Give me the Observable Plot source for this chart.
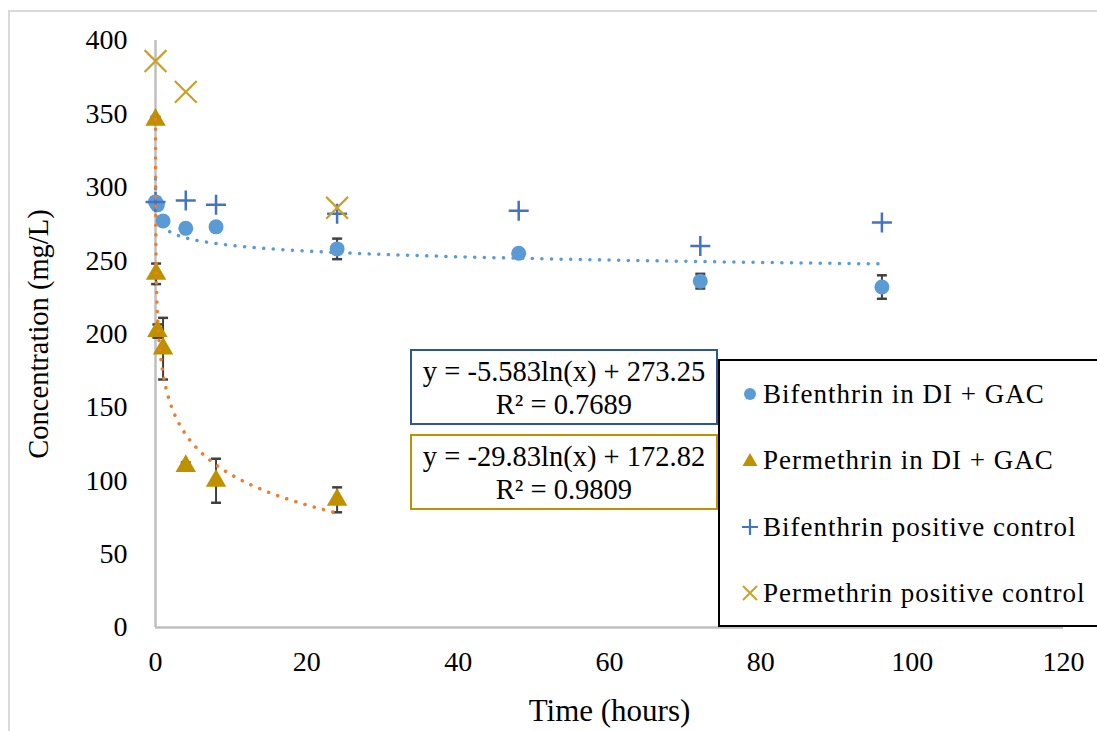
<!DOCTYPE html>
<html><head><meta charset="utf-8">
<script src="https://cdn.jsdelivr.net/npm/d3@7"></script>
<script src="https://cdn.jsdelivr.net/npm/@observablehq/plot@0.6"></script>
<style>
body{margin:0;background:#fff;}
#wrap{position:relative;width:1097px;height:731px;overflow:hidden;font-family:"Liberation Serif","Times New Roman",serif;background:#fff;}
#wrap svg.plot{position:absolute;left:0;top:0;}
#wrap svg text{font-family:"Liberation Serif","Times New Roman",serif !important;font-variant:normal !important;font-variant-numeric:normal !important;}
.frame{position:absolute;left:8px;top:10px;width:1120px;height:760px;border:2px solid #D9D9D9;box-sizing:border-box;}
.eq{position:absolute;left:410px;width:308px;height:76px;box-sizing:border-box;border:2px solid;background:#fff;text-align:center;font-size:28.5px;line-height:33px;color:#000;padding-top:4px;}
#legend{position:absolute;left:718px;top:359px;width:420px;height:268px;border:2px solid #000;box-sizing:border-box;background:#fff;}
.li{position:absolute;left:0;height:34px;line-height:34px;font-size:27px;color:#000;white-space:nowrap;letter-spacing:1px;}
.li svg{position:absolute;left:20px;top:7px;}
.li span{position:absolute;left:43px;}
g[aria-label="x-axis label"] text{font-size:31px;}
g[aria-label="y-axis label"] text{font-size:28.5px;}
</style>
</head><body>
<div id="wrap"><div class="frame"></div></div>
<script>
// ---- data ----
const xTicks = [0, 20, 40, 60, 80, 100, 120];
const yTicks = [0, 50, 100, 150, 200, 250, 300, 350, 400];

const bifTime = [0.003, 0.25, 1, 4, 8, 24, 48, 72, 96];
const bifConc = [290, 288, 277, 272, 273, 258, 255, 236, 232];
const bifErr  = [3, 2, 2, 2, 2, 7, 2, 5, 8];

const permTime = [0.003, 0.08, 0.25, 1, 4, 8, 24];
const permConc = [346, 241, 202, 190, 110, 100, 87];
const permErr  = [2, 7, 4.5, 21, 2.5, 15, 8.5];

const bifCtrlTime = [0.003, 4, 8, 24, 48, 72, 96];
const bifCtrlConc = [290, 291, 288, 282, 284, 260, 276];

const permCtrlTime = [0.003, 4, 24];
const permCtrlConc = [386, 365, 286];

// logarithmic trendlines shown on the chart: y = a*ln(x) + b
const bifFit = {a: -5.583, b: 273.25, r2: 0.7689, from: 0.003, to: 96};
const permFit = {a: -29.83, b: 172.82, r2: 0.9809, from: 0.003, to: 24};

const seriesNames = ["Bifenthrin in DI + GAC", "Permethrin in DI + GAC", "Bifenthrin positive control", "Permethrin positive control"];
const colors = {bif: "#5B9BD5", perm: "#BF9000", bifCtrl: "#4472C4", permCtrl: "#C9A227", bifTrend: "#5B9BD5", permTrend: "#ED7D31", err: "#404040"};
const serif = "Liberation Serif, Times New Roman, serif";

// ---- tables ----
const bif = bifTime.map((t, i) => ({t, c: bifConc[i], e: bifErr[i]}));
const perm = permTime.map((t, i) => ({t, c: permConc[i], e: permErr[i]}));
const bifCtrl = bifCtrlTime.map((t, i) => ({t, c: bifCtrlConc[i]}));
const permCtrl = permCtrlTime.map((t, i) => ({t, c: permCtrlConc[i]}));
function trend(fit) {
  const l0 = Math.log(fit.from), l1 = Math.log(fit.to);
  return d3.range(0, 401).map(k => {
    const t = Math.exp(l0 + (l1 - l0) * k / 400);
    return {t, c: fit.a * Math.log(t) + fit.b};
  });
}
const bifTrend = trend(bifFit), permTrend = trend(permFit);
const errs = [...bif, ...perm];

const capSym = {draw(ctx) { ctx.moveTo(-5, 0); ctx.lineTo(5, 0); }};

const chart = Plot.plot({
  width: 1097, height: 731,
  marginLeft: 155, marginRight: 34, marginTop: 40, marginBottom: 104,
  style: {fontFamily: serif, fontSize: "28px", color: "#000", background: "transparent", overflow: "visible"},
  x: {domain: [0, 120]},
  y: {domain: [0, 400]},
  marks: [
    Plot.axisX(xTicks, {tickSize: 0, tickPadding: 24, fontSize: 28, fontFamily: serif, fontVariant: "normal", label: "Time (hours)", labelAnchor: "center", labelArrow: "none", labelOffset: 93}),
    Plot.axisY(yTicks, {tickSize: 0, tickPadding: 28, fontSize: 28, fontFamily: serif, fontVariant: "normal", label: "Concentration (mg/L)", labelAnchor: "center", labelArrow: "none", labelOffset: 128}),
    Plot.ruleX([0], {stroke: "#BFBFBF", strokeWidth: 2.5}),
    Plot.ruleY([0], {stroke: "#BFBFBF", strokeWidth: 2.5}),
    Plot.ruleX(errs, {x: "t", y1: d => d.c - d.e, y2: d => d.c + d.e, stroke: colors.err, strokeWidth: 2}),
    Plot.dot(errs, {x: "t", y: d => d.c - d.e, symbol: capSym, fill: "none", stroke: colors.err, strokeWidth: 2.5}),
    Plot.dot(errs, {x: "t", y: d => d.c + d.e, symbol: capSym, fill: "none", stroke: colors.err, strokeWidth: 2.5}),
    Plot.dot(bif, {x: "t", y: "c", r: 7.5, fill: colors.bif}),
    Plot.dot(perm, {x: "t", y: "c", r: 7.6, symbol: "triangle", fill: colors.perm}),
    Plot.dot(bifCtrl, {x: "t", y: "c", r: 6.5, symbol: "plus", stroke: colors.bifCtrl, strokeWidth: 2.5}),
    Plot.dot(permCtrl, {x: "t", y: "c", r: 10, symbol: "times", stroke: colors.permCtrl, strokeWidth: 2.2}),
    Plot.line(bifTrend, {x: "t", y: "c", stroke: colors.bifTrend, strokeWidth: 3.5, strokeDasharray: "0.1 9.5", strokeLinecap: "round"}),
    Plot.line(permTrend, {x: "t", y: "c", stroke: colors.permTrend, strokeWidth: 3.5, strokeDasharray: "0.1 9.5", strokeLinecap: "round"})
  ]
});
chart.classList.add("plot");
const wrap = document.getElementById("wrap");
wrap.appendChild(chart);

// equation boxes
function eqBox(fit, top, border) {
  const d = document.createElement("div");
  d.className = "eq";
  d.style.top = top + "px";
  d.style.borderColor = border;
  const sign = fit.b >= 0 ? "+" : "-";
  d.innerHTML = `y = ${fit.a}ln(x) ${sign} ${Math.abs(fit.b).toFixed(2)}<br>R² = ${fit.r2}`;
  wrap.appendChild(d);
}
eqBox(bifFit, 349, "#2F5597");
eqBox(permFit, 434, colors.perm);

// legend
const lg = document.createElement("div");
lg.id = "legend";
const legendSyms = [
  `<circle cx="10" cy="10" r="6" fill="${colors.bif}"/>`,
  `<path d="M10,3 L17.5,16 L2.5,16 Z" fill="${colors.perm}"/>`,
  `<path d="M10,2 V18 M2,10 H18" stroke="${colors.bifCtrl}" stroke-width="2.2" fill="none"/>`,
  `<path d="M3,3 L17,17 M17,3 L3,17" stroke="${colors.permCtrl}" stroke-width="2" fill="none"/>`
];
const legendTops = [16, 82, 149, 215];
seriesNames.forEach((n, i) => {
  const it = document.createElement("div");
  it.className = "li";
  it.style.top = legendTops[i] + "px";
  it.innerHTML = `<svg width="20" height="20">${legendSyms[i]}</svg><span>${n}</span>`;
  lg.appendChild(it);
});
wrap.appendChild(lg);
</script>
</body></html>
